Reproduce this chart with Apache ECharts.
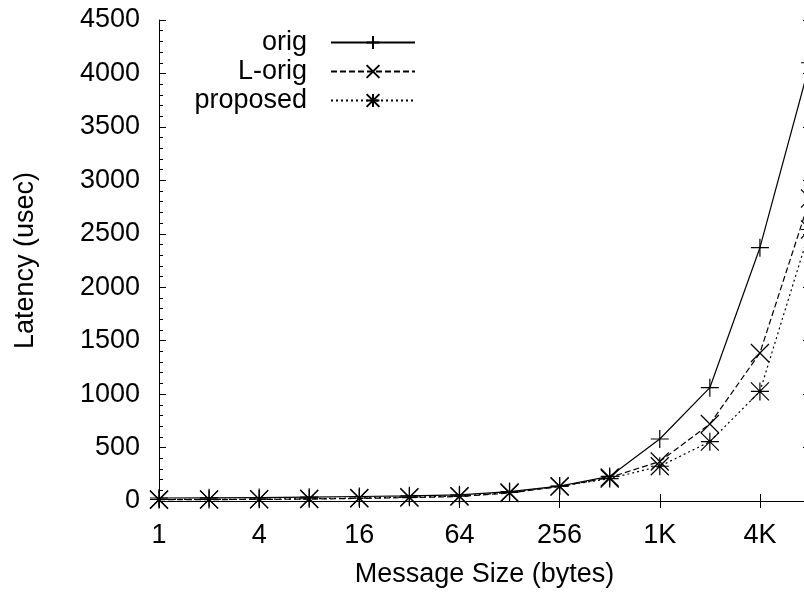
<!DOCTYPE html>
<html>
<head>
<meta charset="utf-8">
<script src="https://cdn.jsdelivr.net/npm/echarts@6/dist/echarts.min.js"></script>
<style>
  html, body { margin: 0; padding: 0; background: #fff; }
  #chart { width: 804px; height: 592px; }
</style>
</head>
<body>
<div id="chart"></div>
<script>
// message sizes (bytes), one per doubling
var sizes = ["1", "2", "4", "8", "16", "32", "64", "128", "256", "512", "1K", "2K", "4K", "8K"];
var origData = [28, 30, 32, 36, 42, 48, 58, 88, 140, 230, 580, 1060, 2370, 4100];
var lorigData = [12, 13, 15, 18, 24, 32, 42, 75, 135, 220, 370, 720, 1385, 2830];
var proposedData = [14, 15, 17, 21, 28, 36, 46, 80, 138, 210, 325, 555, 1025, 2540];

var FONT = "Liberation Sans";
var FSIZE = 27;
var PLUS = "path://M0,-1L0,1M-1,0L1,0";
var CROSS = "path://M-1,-1L1,1M-1,1L1,-1";
var STAR = "path://M0,-1L0,1M-1,0L1,0M-1,-1L1,1M-1,1L1,-1";

function init_latency_chart(container) {
  var myChart = echarts.init(document.getElementById(container));
  var option;

  function makeLegend(name, top) {
    return {
      data: [name],
      right: 388,
      top: top,
      padding: 0,
      itemWidth: 84,
      itemHeight: 16,
      align: "right",
      textStyle: {
        fontFamily: FONT,
        fontSize: FSIZE,
        color: "#000",
        padding: [0, 19, 0, 0],
      },
    };
  }

  function makeSeries(name, data, symbol, dash) {
    return {
      name: name,
      type: "line",
      data: data,
      symbol: symbol,
      symbolSize: 18,
      showAllSymbol: true,
      lineStyle: { color: "#000", width: 1.2, type: dash },
      itemStyle: { color: "transparent", borderColor: "#000", borderWidth: 1.2 },
    };
  }

  var axisLine = { show: true, lineStyle: { color: "#000", width: 1 } };

  option = {
    animation: false,
    backgroundColor: "#fff",
    grid: {
      left: 159,
      right: -6,
      top: 20,
      bottom: 91,
      containLabel: false,
      outerBoundsMode: "none",
    },
    legend: [
      makeLegend("orig", 29),
      makeLegend("L-orig", 58),
      makeLegend("proposed", 87),
    ],
    xAxis: [
      {
        type: "category",
        data: sizes,
        boundaryGap: false,
        position: "bottom",
        name: "Message Size (bytes)",
        nameLocation: "middle",
        nameGap: 60,
        nameTextStyle: { fontFamily: FONT, fontSize: FSIZE, color: "#000" },
        axisLine: axisLine,
        axisTick: { show: true, inside: true, length: 7, interval: 1, lineStyle: { color: "#000" } },
        axisLabel: { interval: 1, margin: 21, fontFamily: FONT, fontSize: FSIZE, color: "#000" },
        splitLine: { show: false },
      },
      {
        type: "category",
        data: sizes,
        boundaryGap: false,
        position: "top",
        axisLine: axisLine,
        axisTick: { show: true, inside: true, length: 7, interval: 1, lineStyle: { color: "#000" } },
        axisLabel: { show: false },
        splitLine: { show: false },
      },
    ],
    yAxis: [
      {
        type: "value",
        min: 0,
        max: 4500,
        interval: 500,
        position: "left",
        name: "Latency (usec)",
        nameLocation: "middle",
        nameGap: 120,
        nameTextStyle: { fontFamily: FONT, fontSize: FSIZE, color: "#000" },
        axisLine: axisLine,
        axisTick: { show: true, inside: true, length: 7, lineStyle: { color: "#000" } },
        minorTick: { show: true, splitNumber: 5, length: 4, lineStyle: { color: "#000" } },
        axisLabel: {
          margin: 19,
          fontFamily: FONT,
          fontSize: FSIZE,
          color: "#000",
          formatter: function (v) { return String(v); },
        },
        splitLine: { show: false },
      },
      {
        type: "value",
        min: 0,
        max: 4500,
        interval: 500,
        position: "right",
        axisLine: axisLine,
        axisTick: { show: true, inside: true, length: 7, lineStyle: { color: "#000" } },
        minorTick: { show: true, splitNumber: 5, length: 4, lineStyle: { color: "#000" } },
        axisLabel: { show: false },
        splitLine: { show: false },
      },
    ],
    series: [
      makeSeries("orig", origData, PLUS, "solid"),
      makeSeries("L-orig", lorigData, CROSS, [6, 3]),
      makeSeries("proposed", proposedData, STAR, [2, 3]),
    ],
  };

  option && myChart.setOption(option);
}

init_latency_chart("chart");
</script>
</body>
</html>
